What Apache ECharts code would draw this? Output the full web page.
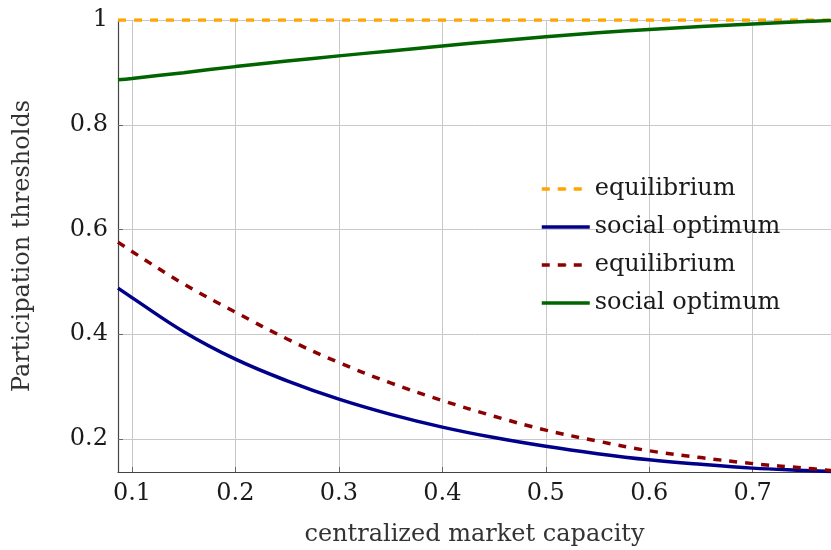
<!doctype html>
<html>
    <head>
        <meta charset="utf-8">
        <title>Participation thresholds</title>
        <style>
            html, body { margin: 0; padding: 0; background: #fff; }
            #main { width: 831px; height: 550px; }
        </style>
    </head>
    <body>
        <div id="main"></div>
        <script src="https://cdn.jsdelivr.net/npm/echarts@6/dist/echarts.min.js"></script>
        <script>
            // centralized market capacity (x)
            var capacity = [0.0865, 0.1, 0.15, 0.2, 0.25, 0.3, 0.35, 0.4, 0.45, 0.5, 0.55, 0.6, 0.65, 0.7, 0.75, 0.7757];

            // series values
            var eqOrange = [1, 1, 1, 1, 1, 1, 1, 1, 1, 1, 1, 1, 1, 1, 1, 1];
            var optBlue = [0.488, 0.470, 0.405, 0.3525, 0.311, 0.276, 0.247, 0.2227, 0.2027, 0.186, 0.172, 0.1603, 0.1516, 0.1444, 0.1400, 0.138];
            var eqRed = [0.576, 0.558, 0.496, 0.4422, 0.391, 0.346, 0.307, 0.2735, 0.2435, 0.217, 0.196, 0.1775, 0.1645, 0.153, 0.1445, 0.140];
            var optGreen = [0.886, 0.8885, 0.8995, 0.911, 0.9215, 0.9315, 0.941, 0.9505, 0.9595, 0.968, 0.9755, 0.982, 0.9875, 0.9925, 0.997, 0.999];

            var names = ['equilibrium', 'social optimum', 'equilibrium ', 'social optimum '];

            function pairs(ys) {
                return capacity.map(function (x, i) { return [x, ys[i]]; });
            }

            var font = 'DejaVu Serif';

            function line(name, ys, color, dashed) {
                return {
                    name: name,
                    type: 'line',
                    data: pairs(ys),
                    showSymbol: false,
                    symbol: 'none',
                    smooth: 0.4,
                    lineStyle: {
                        color: color,
                        width: 3.5,
                        type: dashed ? [8, 8] : 'solid'
                    },
                    itemStyle: { color: color }
                };
            }

            var chart = echarts.init(document.getElementById('main'));

            chart.setOption({
                animation: false,
                grid: {
                    left: 118,
                    right: 0,
                    top: 20,
                    bottom: 78,
                    outerBoundsMode: 'none'
                },
                legend: {
                    data: names,
                    orient: 'vertical',
                    left: 535,
                    top: 172,
                    itemWidth: 48,
                    itemHeight: 2,
                    itemGap: 14,
                    lineStyle: { width: 3.5 },
                    textStyle: { fontFamily: font, fontSize: 24, color: '#1a1a1a' }
                },
                xAxis: {
                    type: 'value',
                    min: capacity[0],
                    max: capacity[capacity.length - 1],
                    name: 'centralized market capacity',
                    nameLocation: 'middle',
                    nameGap: 51,
                    nameTextStyle: { fontFamily: font, fontSize: 24, color: '#333' },
                    axisLine: { lineStyle: { color: '#444', width: 1.2 } },
                    axisTick: { inside: true, length: 5, lineStyle: { color: '#666' } },
                    axisLabel: {
                        showMinLabel: false,
                        showMaxLabel: false,
                        margin: 10,
                        fontFamily: font,
                        fontSize: 24,
                        color: '#1a1a1a'
                    },
                    splitLine: { show: true, lineStyle: { color: '#c8c8c8', width: 1 } }
                },
                yAxis: {
                    type: 'value',
                    min: 0.137,
                    max: 1,
                    name: 'Participation thresholds',
                    nameLocation: 'middle',
                    nameGap: 83,
                    nameTextStyle: { fontFamily: font, fontSize: 24, color: '#333' },
                    axisLine: { show: true, lineStyle: { color: '#444', width: 1.2 } },
                    axisTick: { show: true, inside: true, length: 5, lineStyle: { color: '#666' } },
                    axisLabel: {
                        showMinLabel: false,
                        margin: 10,
                        fontFamily: font,
                        fontSize: 24,
                        color: '#1a1a1a'
                    },
                    splitLine: { show: true, lineStyle: { color: '#c8c8c8', width: 1 } }
                },
                series: [
                    line(names[0], eqOrange, '#ffa500', true),
                    line(names[1], optBlue, '#00008b', false),
                    line(names[2], eqRed, '#8b0000', true),
                    line(names[3], optGreen, '#006400', false)
                ]
            });

            window.onresize = chart.resize;
        </script>
    </body>
</html>
